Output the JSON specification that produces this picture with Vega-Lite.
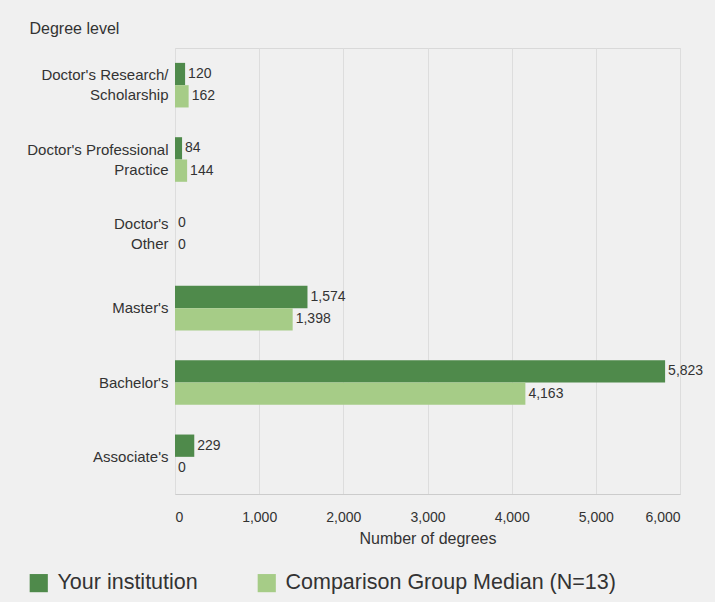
{
  "$schema": "https://vega.github.io/schema/vega-lite/v6.json",
  "autosize": "none",
  "width": 505,
  "height": 446,
  "padding": {"left": 175, "top": 48, "right": 35, "bottom": 108},
  "background": "#f0f0f0",
  "config": {
    "font": "Liberation Sans",
    "view": {"stroke": "#d9d9d9", "strokeWidth": 1},
    "axis": {"labelFont": "Liberation Sans", "titleFont": "Liberation Sans", "labelColor": "#333333", "titleColor": "#333333"}
  },
  "data": {
    "values": [
      {"level": "Doctor's Research/|Scholarship", "series": "Your institution", "value": 120},
      {"level": "Doctor's Research/|Scholarship", "series": "Comparison Group Median (N=13)", "value": 162},
      {"level": "Doctor's Professional|Practice", "series": "Your institution", "value": 84},
      {"level": "Doctor's Professional|Practice", "series": "Comparison Group Median (N=13)", "value": 144},
      {"level": "Doctor's|Other", "series": "Your institution", "value": 0},
      {"level": "Doctor's|Other", "series": "Comparison Group Median (N=13)", "value": 0},
      {"level": "Master's", "series": "Your institution", "value": 1574},
      {"level": "Master's", "series": "Comparison Group Median (N=13)", "value": 1398},
      {"level": "Bachelor's", "series": "Your institution", "value": 5823},
      {"level": "Bachelor's", "series": "Comparison Group Median (N=13)", "value": 4163},
      {"level": "Associate's", "series": "Your institution", "value": 229},
      {"level": "Associate's", "series": "Comparison Group Median (N=13)", "value": 0}
    ]
  },
  "encoding": {
    "y": {
      "field": "level",
      "type": "nominal",
      "sort": null,
      "scale": {"paddingInner": 0.4, "paddingOuter": 0.2},
      "axis": {
        "title": "Degree level",
        "titleAngle": 0,
        "titleAlign": "left",
        "titleBaseline": "middle",
        "titleX": -146,
        "titleY": -20,
        "titleFontSize": 16,
        "titleFontWeight": "normal",
        "labelExpr": "split(datum.label, '|')",
        "labelFontSize": 15,
        "labelLineHeight": 20,
        "labelPadding": 7,
        "labelOffset": {"condition": {"test": "indexof(datum.value, '|') >= 0", "value": -10}, "value": 0},
        "ticks": false,
        "domain": false,
        "grid": false
      }
    },
    "yOffset": {"field": "series", "type": "nominal", "sort": ["Your institution", "Comparison Group Median (N=13)"]},
    "x": {
      "field": "value",
      "type": "quantitative",
      "scale": {"domain": [0, 6000], "nice": false},
      "axis": {
        "title": "Number of degrees",
        "values": [0, 1000, 2000, 3000, 4000, 5000, 6000],
        "format": ",d",
        "labelFontSize": 14,
        "labelPadding": 16,
        "ticks": false,
        "domainColor": "#cccccc",
        "gridColor": "#dddddd",
        "titleFontSize": 16,
        "titleFontWeight": "normal",
        "titlePadding": 6
      }
    }
  },
  "layer": [
    {
      "mark": {"type": "bar"},
      "encoding": {
        "color": {
          "field": "series",
          "type": "nominal",
          "sort": ["Your institution", "Comparison Group Median (N=13)"],
          "scale": {"range": ["#4f8a4b", "#a6cc87"]},
          "legend": {
            "title": null,
            "orient": "none",
            "legendX": -147,
            "legendY": 524,
            "direction": "horizontal",
            "columns": 2,
            "columnPadding": 58,
            "symbolType": "square",
            "symbolSize": 330,
            "symbolStrokeWidth": 0,
            "labelFont": "Liberation Sans",
            "labelFontSize": 21.5,
            "labelColor": "#333333",
            "labelLimit": 400,
            "labelOffset": 8
          }
        }
      }
    },
    {
      "mark": {"type": "text", "align": "left", "baseline": "middle", "dx": 3, "fontSize": 14, "color": "#333333", "font": "Liberation Sans"},
      "encoding": {
        "text": {"field": "value", "type": "quantitative", "format": ",d"}
      }
    }
  ]
}
